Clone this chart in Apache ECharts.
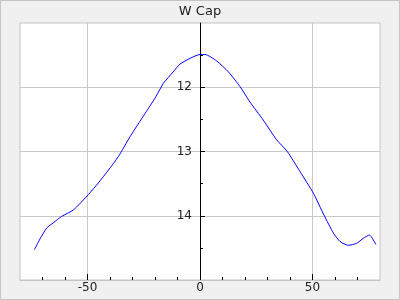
<!DOCTYPE html>
<html>
<head>
<meta charset="utf-8">
<script src="https://cdn.jsdelivr.net/npm/echarts@6/dist/echarts.min.js"></script>
<style>html,body{margin:0;padding:0;background:#f0f0f0;}#c{width:400px;height:300px;}</style>
</head>
<body>
<div id="c"></div>
<script>
const titleText = 'W Cap';
const xValues = [-73.6, -71.1, -68.1, -65.2, -61.5, -56.3, -49.6, -45.2, -40.7, -36.3, -31.1, -26.7, -22.2, -19.5, -16.3, -11.9, -8.9, -4.4, 0, 2.2, 7.4, 12.6, 17.8, 22.2, 28.1, 34.1, 38.8, 44.4, 50.4, 55.1, 59.3, 62.2, 65.9, 69.6, 72.6, 75.3, 78.2];
const yValues = [14.53, 14.36, 14.19, 14.11, 14.01, 13.91, 13.67, 13.49, 13.29, 13.08, 12.77, 12.53, 12.29, 12.14, 11.94, 11.76, 11.64, 11.55, 11.49, 11.49, 11.59, 11.76, 11.99, 12.23, 12.51, 12.82, 13.0, 13.31, 13.65, 13.99, 14.27, 14.40, 14.46, 14.43, 14.35, 14.30, 14.45];
const xMajorTicks = [-50, 0, 50];
const xMinorTicks = [-70, -60, -40, -30, -20, -10, 10, 20, 30, 40, 60, 70];
const yMajorTicks = [12, 13, 14];

const font = 'DejaVu Sans';
const chart = echarts.init(document.getElementById('c'), null, {renderer: 'canvas'});
chart.setOption({
  backgroundColor: '#f0f0f0',
  animation: false,
  title: {
    text: titleText, left: 'center', top: 5, padding: 0,
    textStyle: {fontFamily: font, fontSize: 13, fontWeight: 'normal', color: '#222'}
  },
  graphic: [{
    type: 'rect', silent: true, z: -10,
    shape: {x: 0.5, y: 0.5, width: 399, height: 299},
    style: {fill: 'none', stroke: '#c4c4c4', lineWidth: 1}
  }],
  grid: {
    left: 20, right: 20, top: 23, bottom: 20,
    containLabel: false, outerBoundsMode: 'none',
    show: true, backgroundColor: '#ffffff', borderColor: '#c4c4c4', borderWidth: 1
  },
  xAxis: [{
    type: 'value', min: -80, max: 80, splitNumber: 3, position: 'bottom',
    axisLine: {onZero: false, lineStyle: {color: '#c4c4c4'}},
    axisTick: {show: true, inside: true, length: 6, customValues: xMajorTicks, lineStyle: {color: '#000'}},
    axisLabel: {customValues: xMajorTicks, margin: 2, color: '#222', fontFamily: font, fontSize: 12},
    splitLine: {show: true, customValues: xMajorTicks, lineStyle: {color: '#c8c8c8', width: 1}}
  }, {
    type: 'value', min: -80, max: 80, position: 'bottom',
    axisLine: {show: false, onZero: false},
    axisTick: {show: true, inside: true, length: 3, customValues: xMinorTicks, lineStyle: {color: '#000'}},
    axisLabel: {show: false},
    splitLine: {show: false}
  }],
  yAxis: {
    type: 'value', inverse: true, min: 11, max: 15, interval: 1,
    position: 'left', offset: -180,
    axisLine: {show: true, onZero: false, lineStyle: {color: '#000'}},
    axisTick: {show: true, inside: true, length: 5, customValues: yMajorTicks, lineStyle: {color: '#000'}},
    minorTick: {show: true, splitNumber: 2, length: 3, lineStyle: {color: '#000'}},
    axisLabel: {customValues: yMajorTicks, margin: 8, color: '#222', fontFamily: font, fontSize: 12},
    splitLine: {show: true, lineStyle: {color: '#c8c8c8', width: 1}}
  },
  series: [{
    type: 'line', xAxisIndex: 0,
    data: xValues.map((x, i) => [x, yValues[i]]),
    showSymbol: false, smooth: 0.2,
    lineStyle: {color: '#0000ff', width: 1},
    z: 5
  }]
});
</script>
</body>
</html>
